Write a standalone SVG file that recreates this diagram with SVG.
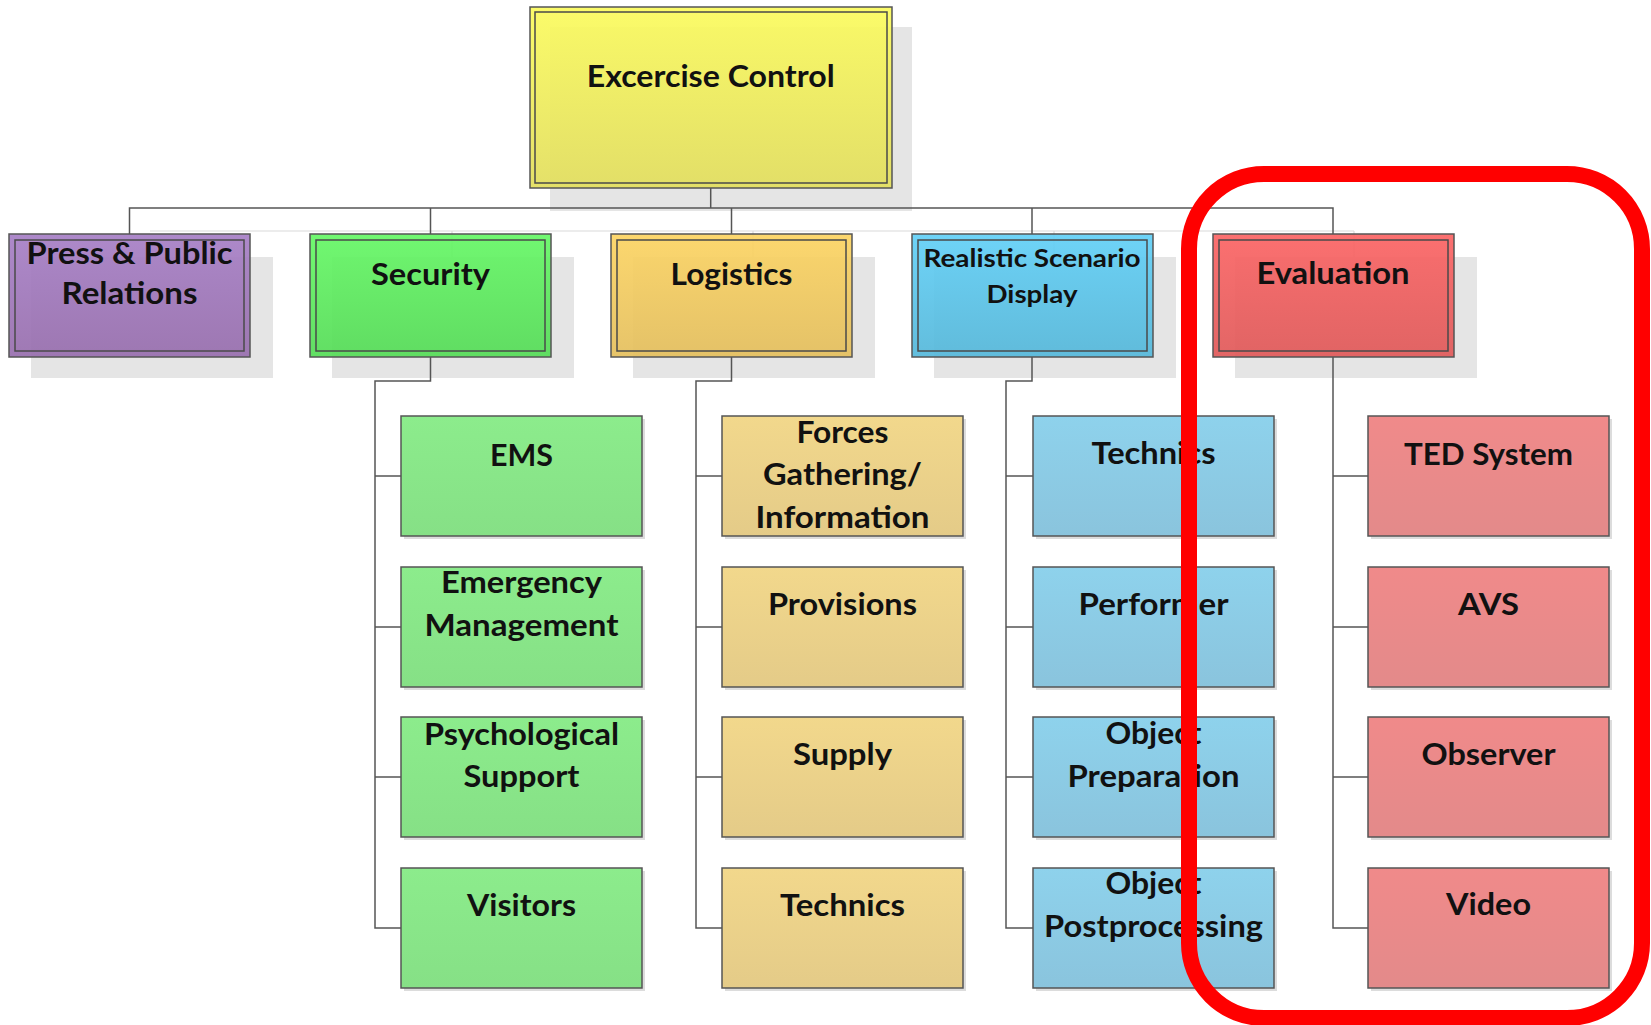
<svg xmlns="http://www.w3.org/2000/svg" width="1651" height="1025" viewBox="0 0 1651 1025">
<defs>
<linearGradient id="gY" x1="0" y1="0" x2="0" y2="1"><stop offset="0" stop-color="#fbfb5e"/><stop offset="1" stop-color="#e2de5e"/></linearGradient>
<linearGradient id="gP" x1="0" y1="0" x2="0" y2="1"><stop offset="0" stop-color="#a780c6"/><stop offset="1" stop-color="#986fae"/></linearGradient>
<linearGradient id="gG" x1="0" y1="0" x2="0" y2="1"><stop offset="0" stop-color="#66f766"/><stop offset="1" stop-color="#56dc58"/></linearGradient>
<linearGradient id="gO" x1="0" y1="0" x2="0" y2="1"><stop offset="0" stop-color="#fcd463"/><stop offset="1" stop-color="#e4bf5e"/></linearGradient>
<linearGradient id="gB" x1="0" y1="0" x2="0" y2="1"><stop offset="0" stop-color="#63d0f7"/><stop offset="1" stop-color="#56b8da"/></linearGradient>
<linearGradient id="gR" x1="0" y1="0" x2="0" y2="1"><stop offset="0" stop-color="#fb6565"/><stop offset="1" stop-color="#e05a5a"/></linearGradient>
<linearGradient id="g2G" x1="0" y1="0" x2="0" y2="1"><stop offset="0" stop-color="#8cec8c"/><stop offset="1" stop-color="#86e086"/></linearGradient>
<linearGradient id="g2O" x1="0" y1="0" x2="0" y2="1"><stop offset="0" stop-color="#f2d88c"/><stop offset="1" stop-color="#e4cb88"/></linearGradient>
<linearGradient id="g2B" x1="0" y1="0" x2="0" y2="1"><stop offset="0" stop-color="#8ed2ec"/><stop offset="1" stop-color="#8ac4dd"/></linearGradient>
<linearGradient id="g2R" x1="0" y1="0" x2="0" y2="1"><stop offset="0" stop-color="#f08a8a"/><stop offset="1" stop-color="#e38a8a"/></linearGradient>
</defs>
<style>
.sh{fill:#e5e5e5}
.sh2{fill:#dcdcdc}
.box{stroke:#555;stroke-width:1.5;fill-opacity:0.93}
.inner{fill:none;stroke:#4a4a4a;stroke-width:1.5}
.b2{stroke:#555;stroke-width:1.5}
.conn{fill:none;stroke:#555;stroke-width:1.5}
.cshadow{fill:none;stroke:#dadada;stroke-width:1.2}
text{font-family:Lato,"Open Sans","Liberation Sans",sans-serif;font-weight:bold;font-size:30px;fill:#111;text-anchor:middle}
.sm{font-size:24px}
.hl{fill:none;stroke:#ff0000;stroke-width:16}
</style>

<g id="shadows">
<rect class="sh" x="550" y="27" width="362" height="184"/>
<rect class="sh" x="31" y="257" width="242" height="121"/>
<rect class="sh" x="332" y="257" width="242" height="121"/>
<rect class="sh" x="633" y="257" width="242" height="121"/>
<rect class="sh" x="934" y="257" width="242" height="121"/>
<rect class="sh" x="1235" y="257" width="242" height="121"/>
</g>

<g id="connectors">
<path class="cshadow" d="M150,231 H1354 M452,231 V257 M753,231 V257 M1054,231 V257 M1354,231 V257"/>
<path class="conn" d="M710.7,188 V208 M129.5,234 V208 H1333 V234 M430.5,208 V234 M731.5,208 V234 M1032,208 V234"/>
<path class="conn" d="M430.5,357 V381 H375 V928 H401 M375,476 H401 M375,627 H401 M375,777 H401"/>
<path class="conn" d="M731.5,357 V381 H696 V928 H722 M696,476 H722 M696,627 H722 M696,777 H722"/>
<path class="conn" d="M1032,357 V381 H1006 V928 H1033 M1006,476 H1033 M1006,627 H1033 M1006,777 H1033"/>
<path class="conn" d="M1333,357 V928 H1368 M1333,476 H1368 M1333,627 H1368 M1333,777 H1368"/>
</g>

<g id="n-excercise-control">
<rect class="box" x="530" y="7" width="362" height="181" fill="url(#gY)"/>
<rect class="inner" x="535" y="12" width="352" height="171"/>
<text x="710.7" y="87" textLength="248" lengthAdjust="spacingAndGlyphs">Excercise Control</text>
</g>

<g id="n-press">
<rect class="box" x="9" y="234" width="241" height="123" fill="url(#gP)"/>
<rect class="inner" x="15" y="240" width="229" height="111"/>
<text x="129.5" y="264" textLength="206" lengthAdjust="spacingAndGlyphs">Press &amp; Public</text>
<text x="129.5" y="304" textLength="136" lengthAdjust="spacingAndGlyphs">Relations</text>
</g>

<g id="n-security">
<rect class="box" x="310" y="234" width="241" height="123" fill="url(#gG)"/>
<rect class="inner" x="316" y="240" width="229" height="111"/>
<text x="430.5" y="285" textLength="119" lengthAdjust="spacingAndGlyphs">Security</text>
</g>

<g id="n-logistics">
<rect class="box" x="611" y="234" width="241" height="123" fill="url(#gO)"/>
<rect class="inner" x="617" y="240" width="229" height="111"/>
<text x="731.5" y="285" textLength="122" lengthAdjust="spacingAndGlyphs">Logistics</text>
</g>

<g id="n-rsd">
<rect class="box" x="912" y="234" width="241" height="123" fill="url(#gB)"/>
<rect class="inner" x="918" y="240" width="229" height="111"/>
<text class="sm" x="1032" y="267" textLength="217" lengthAdjust="spacingAndGlyphs">Realistic Scenario</text>
<text class="sm" x="1032" y="303" textLength="91" lengthAdjust="spacingAndGlyphs">Display</text>
</g>

<g id="n-evaluation">
<rect class="box" x="1213" y="234" width="241" height="123" fill="url(#gR)"/>
<rect class="inner" x="1219" y="240" width="229" height="111"/>
<text x="1333" y="284" textLength="153" lengthAdjust="spacingAndGlyphs">Evaluation</text>
</g>

<!-- Security children -->
<g id="n-ems"><rect class="sh2" x="404" y="419" width="241" height="120"/><rect class="b2" x="401" y="416" width="241" height="120" fill="url(#g2G)"/>
<text x="521.5" y="466" textLength="63" lengthAdjust="spacingAndGlyphs">EMS</text></g>
<g id="n-emergency"><rect class="sh2" x="404" y="570" width="241" height="120"/><rect class="b2" x="401" y="567" width="241" height="120" fill="url(#g2G)"/>
<text x="521.5" y="593" textLength="161" lengthAdjust="spacingAndGlyphs">Emergency</text>
<text x="521.5" y="636" textLength="194" lengthAdjust="spacingAndGlyphs">Management</text></g>
<g id="n-psych"><rect class="sh2" x="404" y="720" width="241" height="120"/><rect class="b2" x="401" y="717" width="241" height="120" fill="url(#g2G)"/>
<text x="521.5" y="745" textLength="195" lengthAdjust="spacingAndGlyphs">Psychological</text>
<text x="521.5" y="787" textLength="116" lengthAdjust="spacingAndGlyphs">Support</text></g>
<g id="n-visitors"><rect class="sh2" x="404" y="871" width="241" height="120"/><rect class="b2" x="401" y="868" width="241" height="120" fill="url(#g2G)"/>
<text x="521.5" y="916" textLength="109" lengthAdjust="spacingAndGlyphs">Visitors</text></g>

<!-- Logistics children -->
<g id="n-forces"><rect class="sh2" x="725" y="419" width="241" height="120"/><rect class="b2" x="722" y="416" width="241" height="120" fill="url(#g2O)"/>
<text x="842.5" y="443" textLength="92" lengthAdjust="spacingAndGlyphs">Forces</text>
<text x="842.5" y="485" textLength="159" lengthAdjust="spacingAndGlyphs">Gathering/</text>
<text x="842.5" y="528" textLength="174" lengthAdjust="spacingAndGlyphs">Information</text></g>
<g id="n-provisions"><rect class="sh2" x="725" y="570" width="241" height="120"/><rect class="b2" x="722" y="567" width="241" height="120" fill="url(#g2O)"/>
<text x="842.5" y="615" textLength="149" lengthAdjust="spacingAndGlyphs">Provisions</text></g>
<g id="n-supply"><rect class="sh2" x="725" y="720" width="241" height="120"/><rect class="b2" x="722" y="717" width="241" height="120" fill="url(#g2O)"/>
<text x="842.5" y="765" textLength="99" lengthAdjust="spacingAndGlyphs">Supply</text></g>
<g id="n-log-technics"><rect class="sh2" x="725" y="871" width="241" height="120"/><rect class="b2" x="722" y="868" width="241" height="120" fill="url(#g2O)"/>
<text x="842.5" y="916" textLength="125" lengthAdjust="spacingAndGlyphs">Technics</text></g>

<!-- RSD children -->
<g id="n-rsd-technics"><rect class="sh2" x="1036" y="419" width="241" height="120"/><rect class="b2" x="1033" y="416" width="241" height="120" fill="url(#g2B)"/>
<text x="1153.5" y="464" textLength="124" lengthAdjust="spacingAndGlyphs">Technics</text></g>
<g id="n-performer"><rect class="sh2" x="1036" y="570" width="241" height="120"/><rect class="b2" x="1033" y="567" width="241" height="120" fill="url(#g2B)"/>
<text x="1153.5" y="615" textLength="150" lengthAdjust="spacingAndGlyphs">Performer</text></g>
<g id="n-objprep"><rect class="sh2" x="1036" y="720" width="241" height="120"/><rect class="b2" x="1033" y="717" width="241" height="120" fill="url(#g2B)"/>
<text x="1153.5" y="744" textLength="96" lengthAdjust="spacingAndGlyphs">Object</text>
<text x="1153.5" y="787" textLength="172" lengthAdjust="spacingAndGlyphs">Preparation</text></g>
<g id="n-objpost"><rect class="sh2" x="1036" y="871" width="241" height="120"/><rect class="b2" x="1033" y="868" width="241" height="120" fill="url(#g2B)"/>
<text x="1153.5" y="894" textLength="96" lengthAdjust="spacingAndGlyphs">Object</text>
<text x="1153.5" y="937" textLength="219" lengthAdjust="spacingAndGlyphs">Postprocessing</text></g>

<!-- Evaluation children -->
<g id="n-ted"><rect class="sh2" x="1371" y="419" width="241" height="120"/><rect class="b2" x="1368" y="416" width="241" height="120" fill="url(#g2R)"/>
<text x="1488.5" y="465" textLength="169" lengthAdjust="spacingAndGlyphs">TED System</text></g>
<g id="n-avs"><rect class="sh2" x="1371" y="570" width="241" height="120"/><rect class="b2" x="1368" y="567" width="241" height="120" fill="url(#g2R)"/>
<text x="1488.5" y="615" textLength="61" lengthAdjust="spacingAndGlyphs">AVS</text></g>
<g id="n-observer"><rect class="sh2" x="1371" y="720" width="241" height="120"/><rect class="b2" x="1368" y="717" width="241" height="120" fill="url(#g2R)"/>
<text x="1488.5" y="765" textLength="134" lengthAdjust="spacingAndGlyphs">Observer</text></g>
<g id="n-video"><rect class="sh2" x="1371" y="871" width="241" height="120"/><rect class="b2" x="1368" y="868" width="241" height="120" fill="url(#g2R)"/>
<text x="1488.5" y="915" textLength="85" lengthAdjust="spacingAndGlyphs">Video</text></g>

<g id="highlight">
<rect class="hl" x="1189" y="174" width="453" height="844" rx="75" ry="75"/>
</g>
</svg>
